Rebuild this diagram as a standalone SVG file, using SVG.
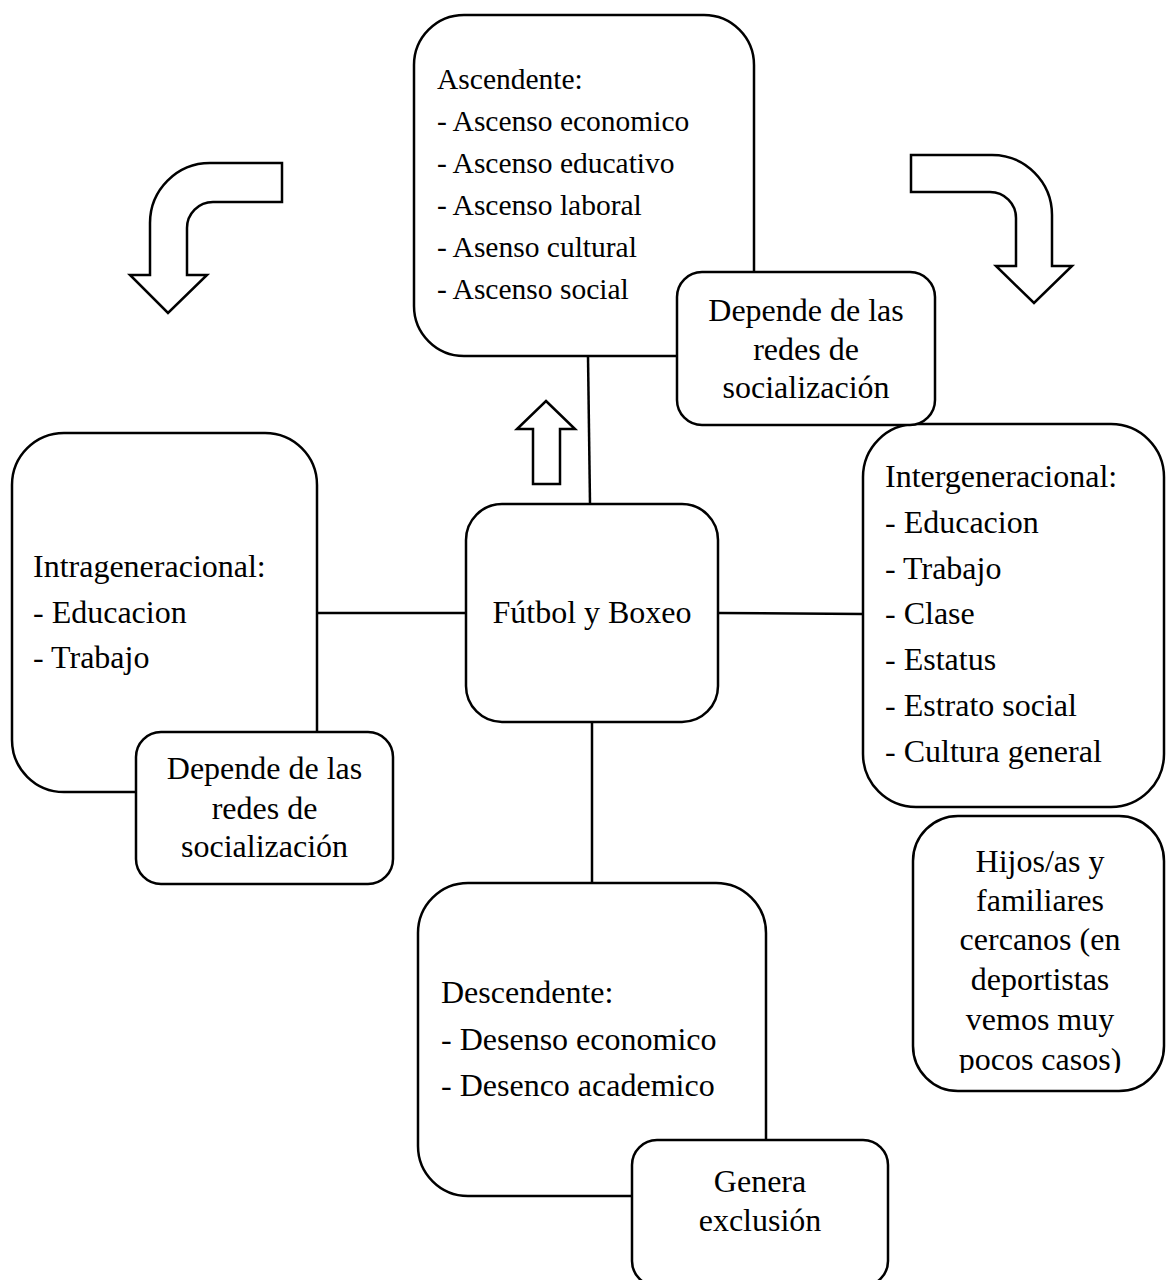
<svg xmlns="http://www.w3.org/2000/svg" width="1166" height="1280" viewBox="0 0 1166 1280">
<style>
.box{fill:#fff;stroke:#000;stroke-width:2.5}
.con{stroke:#000;stroke-width:2.5;fill:none}
.arw{fill:#fff;stroke:#000;stroke-width:2.5;stroke-linejoin:miter}
text{font-family:"Liberation Serif","Times New Roman",serif;font-size:32px;fill:#000}
.sm{font-size:29.5px}
.c{text-anchor:middle}
</style>
<defs>
<clipPath id="hclip"><rect x="913" y="816" width="253" height="257"/></clipPath>
</defs>
<rect width="1166" height="1280" fill="#fff"/>
<g id="connectors">
<line class="con" x1="588" y1="356" x2="590" y2="504"/>
<line class="con" x1="317" y1="613" x2="466" y2="613"/>
<line class="con" x1="718" y1="613" x2="863" y2="614"/>
<line class="con" x1="592" y1="722" x2="592" y2="883"/>
</g>
<g id="arrow-left"><path class="arw" d="M282,163 H210 A60,60 0 0 0 150,223 V275 H130 L168,313 L207,275 H187 V228 A26,26 0 0 1 213,202 H282 Z"/></g>
<g id="arrow-right"><path class="arw" d="M911,155 H992 A60,60 0 0 1 1052,215 V266 H1072 L1034,303 L996,266 H1016 V218 A26,26 0 0 0 990,192 H911 Z"/></g>
<g id="arrow-up"><path class="arw" d="M546,401 L575,429 H560 V484 H533 V429 H517 Z"/></g>
<g id="ascendente">
<rect class="box" x="414" y="15" width="340" height="341" rx="50"/>
<text class="sm" x="437" y="89">Ascendente:</text>
<text class="sm" x="437" y="131">- Ascenso economico</text>
<text class="sm" x="437" y="173">- Ascenso educativo</text>
<text class="sm" x="437" y="215">- Ascenso laboral</text>
<text class="sm" x="437" y="257">- Asenso cultural</text>
<text class="sm" x="437" y="299">- Ascenso social</text>
</g>
<g id="intergeneracional">
<rect class="box" x="863" y="424" width="301" height="383" rx="53"/>
<text x="885" y="487">Intergeneracional:</text>
<text x="885" y="533">- Educacion</text>
<text x="885" y="579">- Trabajo</text>
<text x="885" y="624">- Clase</text>
<text x="885" y="670">- Estatus</text>
<text x="885" y="716">- Estrato social</text>
<text x="885" y="762">- Cultura general</text>
</g>
<g id="depende-top">
<rect class="box" x="677" y="272" width="258" height="153" rx="25"/>
<text class="c" x="806" y="321">Depende de las</text>
<text class="c" x="806" y="360">redes de</text>
<text class="c" x="806" y="398">socialización</text>
</g>
<g id="intragenerational">
<rect class="box" x="12" y="433" width="305" height="359" rx="52"/>
<text x="33" y="577">Intrageneracional:</text>
<text x="33" y="623">- Educacion</text>
<text x="33" y="668">- Trabajo</text>
</g>
<g id="depende-left">
<rect class="box" x="136" y="732" width="257" height="152" rx="25"/>
<text class="c" x="264.5" y="779">Depende de las</text>
<text class="c" x="264.5" y="819">redes de</text>
<text class="c" x="264.5" y="857">socialización</text>
</g>
<g id="futbol">
<rect class="box" x="466" y="504" width="252" height="218" rx="36"/>
<text class="c" x="592" y="623">Fútbol y Boxeo</text>
</g>
<g id="hijos">
<rect class="box" x="913" y="816" width="251" height="275" rx="45"/>
<g clip-path="url(#hclip)">
<text class="c" x="1040" y="872">Hijos/as y</text>
<text class="c" x="1040" y="911">familiares</text>
<text class="c" x="1040" y="950">cercanos (en</text>
<text class="c" x="1040" y="990">deportistas</text>
<text class="c" x="1040" y="1030">vemos muy</text>
<text class="c" x="1040" y="1070">pocos casos)</text>
</g>
</g>
<g id="descendente">
<rect class="box" x="418" y="883" width="348" height="313" rx="50"/>
<text x="441" y="1003">Descendente:</text>
<text x="441" y="1050">- Desenso economico</text>
<text x="441" y="1096">- Desenco academico</text>
</g>
<g id="genera">
<rect class="box" x="632" y="1140" width="256" height="146" rx="25"/>
<text class="c" x="760" y="1192">Genera</text>
<text class="c" x="760" y="1231">exclusión</text>
</g>
</svg>
